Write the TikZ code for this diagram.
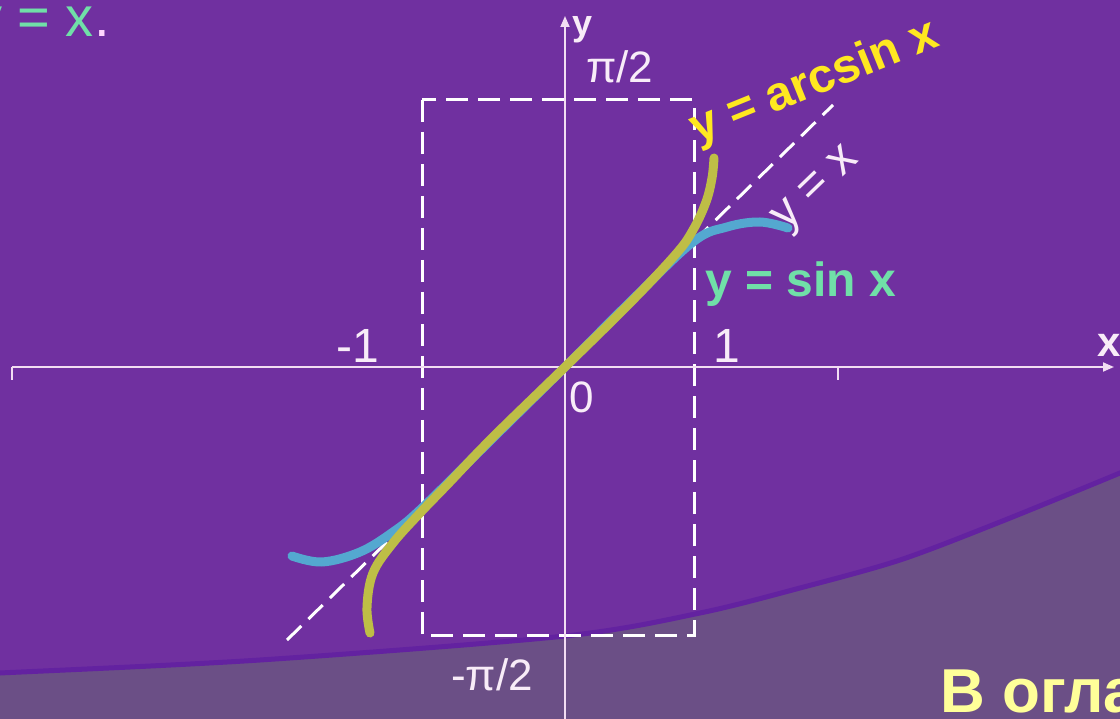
\documentclass[tikz,border=0pt]{standalone}
\usepackage{fontspec}
\setmainfont{Liberation Sans}
\usetikzlibrary{arrows.meta}
\definecolor{bgpurple}{HTML}{7030A0}
\definecolor{lowgray}{HTML}{6B4F86}
\definecolor{bandpurple}{HTML}{6322A0}
\definecolor{axiscol}{HTML}{F2DDF2}
\definecolor{labcol}{HTML}{F8ECF8}
\definecolor{sincol}{HTML}{54A8D0}
\definecolor{arcsincol}{HTML}{BEBE46}
\definecolor{mint}{HTML}{70E0A8}
\definecolor{gold}{HTML}{FFE820}
\definecolor{paleyellow}{HTML}{FFFF99}
\definecolor{pinkdot}{HTML}{FFD6FF}
\begin{document}
\begin{tikzpicture}[x=1pt,y=-1pt,
  axis/.style={draw=axiscol, line width=1.8pt},
  dashedline/.style={draw=white, line width=3pt, dash pattern=on 22pt off 10pt},
  curve/.style={line width=9pt, line cap=round, line join=round},
  lab/.style={text=labcol, inner sep=0pt, anchor=base west, font=\fontsize{44}{50}\selectfont},
  biglab/.style={text=labcol, inner sep=0pt, anchor=base west, font=\fontsize{48}{54}\selectfont},
  boldlab/.style={inner sep=0pt, anchor=base west, font=\fontsize{48}{54}\selectfont\bfseries},
  arrowtip/.style={-{Triangle[length=11pt,width=9pt]}}
]
\useasboundingbox (0,0) rectangle (1120,719);
\clip (0,0) rectangle (1120,719);
% background
\fill[bgpurple] (0,0) rectangle (1120,719);
\fill[lowgray] plot[smooth] coordinates {(-10,673.5) (0,673) (260,660) (565,636) (700,613) (800,588) (900,560) (1000,522) (1120,473) (1130,468)} -- (1130,730) -- (-10,730) -- cycle;
\draw[bandpurple, line width=5pt] plot[smooth] coordinates {(-10,673.5) (0,673) (260,660) (565,636) (700,613) (800,588) (900,560) (1000,522) (1120,473) (1130,468)};

% dashed rectangle and y = x line
\coordinate (r1) at (422,100);
\coordinate (r2) at (694,635);
\draw[dashedline] (r1) rectangle (r2);
\coordinate (d1) at (287,640);
\coordinate (d2) at (833,105);
\draw[dashedline, dash pattern=on 20pt off 10pt] (d1) -- (d2);

% axes
\coordinate (xl) at (12,367);
\coordinate (xr) at (1114,367);
\coordinate (yb) at (565,730);
\coordinate (yt) at (565,16);
\draw[axis, arrowtip] (xl) -- (xr);
\draw[axis, arrowtip] (yb) -- (yt);
\draw[axis] (xl) -- ++(0,13);
\coordinate (t2) at (838,367);
\draw[axis] (t2) -- ++(0,13);

% curves
\draw[curve, sincol] plot[smooth, tension=0.6] coordinates {(292,556) (322,562) (360,552) (393,532) (422,508) (493,438) (565,367) (630,302) (693,242) (727,227) (760,222) (788,228)};
\draw[curve, arcsincol] plot[smooth, tension=0.6] coordinates {(370,633) (367,607) (373,573) (393,543) (420,513) (447,485) (493,437) (565,367) (630,303) (676,254) (693,230) (706,202) (712,178) (714,158)};

% labels
\node[lab] (lpi) at (586,83) {π/2};
\node[lab] (lmpi) at (451,690) {-π/2};
\node[lab] (lzero) at (569,413) {0};
\node[biglab] (lm1) at (336,363) {-1};
\node[biglab] (lp1) at (713,363) {1};
\node[inner sep=0pt, anchor=base west, text=labcol, font=\fontsize{36}{40}\selectfont\bfseries] (ylab) at (572,36) {y};
\node[inner sep=0pt, anchor=base west, text=labcol, font=\fontsize{42}{46}\selectfont\bfseries] (xlab) at (1097,357) {x};
\node[boldlab, text=mint] (lsin) at (705,297) {y = sin x};
\node[boldlab, text=gold, rotate=22] (larcsin) at (697,144) {y = arcsin x};
\node[biglab, rotate=44] (lyx) at (786,232) {y = x};
\node[inner sep=0pt, anchor=base west, font=\fontsize{56}{60}\selectfont] (ltop) at (-26,37) {\textcolor{mint}{y = x}\textcolor{pinkdot}{.}};
\node[inner sep=0pt, anchor=base west, text=paleyellow, font=\fontsize{62}{68}\selectfont\bfseries] (lbottom) at (940,712) {В оглавление};
\end{tikzpicture}
\end{document}
